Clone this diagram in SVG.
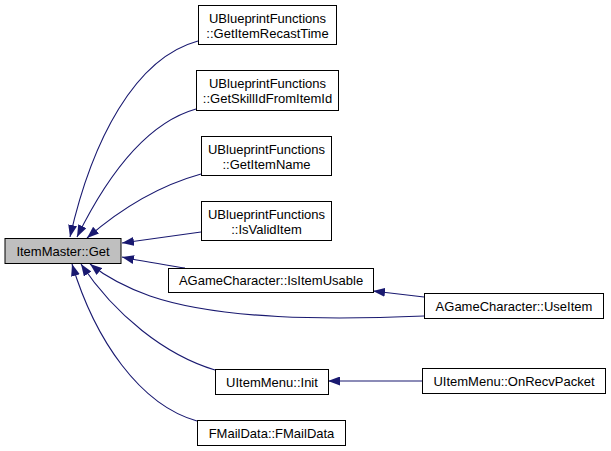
<svg xmlns="http://www.w3.org/2000/svg" width="611" height="451" viewBox="0 0 611 451">
<style>
.n{fill:#fff;stroke:#000;stroke-width:1}
.g{fill:#bfbfbf;stroke:#000;stroke-width:1}
text{font-family:"Liberation Sans",Arial,sans-serif;font-size:13px;text-anchor:middle;fill:#000}
.e{fill:none;stroke:#191970;stroke-width:1.1;marker-end:url(#ah)}
</style>
<defs>
<marker id="ah" viewBox="0 0 12 9" refX="12" refY="4.5" markerWidth="12" markerHeight="9" markerUnits="userSpaceOnUse" orient="auto">
<path d="M0,0 L12,4.5 L0,9 z" fill="#191970"/>
</marker>
</defs>
<rect width="611" height="451" fill="#fff"/>
<g id="edges">
<path class="e" d="M198,41 C135,58 92,140 70,237"/>
<path class="e" d="M196,109 C150,122 110,170 77,237"/>
<path class="e" d="M201,174 C165,184 125,205 87,238"/>
<path class="e" d="M201,232 L122,243"/>
<path class="e" d="M185,268 C160,264 140,261 122,257"/>
<path class="e" d="M424,316 C330,320 220,320 150,296 C125,287 105,276 90,264"/>
<path class="e" d="M215,370 C165,355 115,315 81,264"/>
<path class="e" d="M197,421 C140,405 95,340 72,264"/>
<path class="e" d="M424,297 L373,291"/>
<path class="e" d="M422,381 L328,381"/>
</g>
<g id="get"><rect class="g" x="5" y="238.5" width="116" height="25"/><text x="63" y="256">ItemMaster::Get</text></g>
<g id="recast"><rect class="n" x="198.5" y="5.5" width="138" height="39"/><text x="267.5" y="23">UBlueprintFunctions</text><text x="267.5" y="38">::GetItemRecastTime</text></g>
<g id="skill"><rect class="n" x="196.5" y="70.5" width="142" height="40"/><text x="267.5" y="88">UBlueprintFunctions</text><text x="267.5" y="103">::GetSkillIdFromItemId</text></g>
<g id="name"><rect class="n" x="201.5" y="136.5" width="130" height="39"/><text x="266.5" y="154">UBlueprintFunctions</text><text x="266.5" y="169">::GetItemName</text></g>
<g id="valid"><rect class="n" x="201.5" y="201.5" width="130" height="39"/><text x="266.5" y="219">UBlueprintFunctions</text><text x="266.5" y="234">::IsValidItem</text></g>
<g id="usable"><rect class="n" x="168.5" y="268.5" width="205" height="24"/><text x="271" y="285">AGameCharacter::IsItemUsable</text></g>
<g id="useitem"><rect class="n" x="424.5" y="293.5" width="179" height="25"/><text x="514" y="310.5">AGameCharacter::UseItem</text></g>
<g id="init"><rect class="n" x="215.5" y="369.5" width="113" height="25"/><text x="272" y="386.5">UItemMenu::Init</text></g>
<g id="recv"><rect class="n" x="422.5" y="368.5" width="183" height="25"/><text x="514" y="385.5">UItemMenu::OnRecvPacket</text></g>
<g id="mail"><rect class="n" x="197.5" y="420.5" width="148" height="25"/><text x="271.5" y="437.5">FMailData::FMailData</text></g>
</svg>
